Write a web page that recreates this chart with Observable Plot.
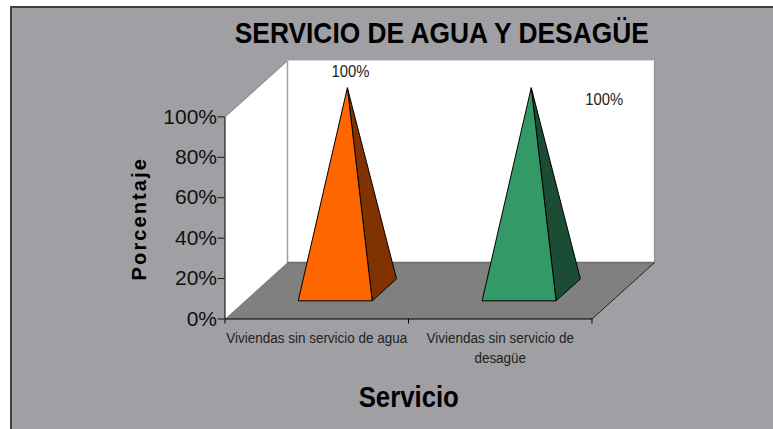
<!DOCTYPE html>
<html>
<head>
<meta charset="utf-8">
<script src="https://cdn.jsdelivr.net/npm/d3@7"></script>
<script src="https://cdn.jsdelivr.net/npm/@observablehq/plot@0.6"></script>
<style>
html,body{margin:0;padding:0;background:#fff;}
#panel{position:absolute;left:10px;top:6px;right:0;bottom:0;background:#a09fa4;border-left:2px solid #404040;border-top:2px solid #404040;}
#chart{position:absolute;left:0;top:0;}
</style>
</head>
<body>
<div id="panel"></div>
<div id="chart"></div>
<script>
const title = "SERVICIO DE AGUA Y DESAGÜE";
const xTitle = "Servicio";
const yTitle = "Porcentaje";
const categories = ["Viviendas sin servicio de agua", "Viviendas sin servicio de\ndesagüe"];
const values = [100, 100];
const faceColors = ["#ff6600", "#339966"];
const sideColors = ["#803300", "#1a4d33"];
const centers = [0.491, 1.493];
const yTicks = [0, 20, 40, 60, 80, 100];
const xTicks = [0, 1, 2];
const labelOffsets = [[3, -15.7], [73, 12]];

// oblique projection of the 3-D chart box: category, value, depth -> plot x, y
const depthX = 0.3406, depthY = 27.9, halfWidth = 0.2016, depthFront = 0.322, depthBack = 0.711;
const P = (cat, value, depth) => ({X: cat + depth * depthX, Y: value + depth * depthY});

const poly = (pts, fill, stroke, strokeWidth = 1) =>
  Plot.line([...pts, pts[0]], {x: "X", y: "Y", fill, stroke, strokeWidth, strokeLinejoin: "miter", strokeLinecap: "butt"});

const seg = (a, b, stroke, strokeWidth = 1) =>
  Plot.line([a, b], {x: "X", y: "Y", stroke, strokeWidth, strokeLinecap: "butt"});

const pyramids = values.flatMap((v, i) => {
  const c = centers[i];
  const apex = P(c, v, (depthFront + depthBack) / 2);
  return [
    poly([P(c + halfWidth, 0, depthFront), P(c + halfWidth, 0, depthBack), apex], sideColors[i], "#000"),
    poly([P(c - halfWidth, 0, depthFront), P(c + halfWidth, 0, depthFront), apex], faceColors[i], "#000"),
    Plot.text([v], {x: () => apex.X, y: () => apex.Y, text: d => d + "%", dx: labelOffsets[i][0], dy: labelOffsets[i][1],
      fontSize: 16.5, fill: "#222", lineAnchor: "middle", className: "squeeze-90"})
  ];
});

const plot = Plot.plot({
  width: 773, height: 429,
  marginLeft: 224.5, marginRight: 119, marginTop: 60, marginBottom: 110.5,
  style: {background: "transparent", fontFamily: "'Liberation Sans', Arial, sans-serif"},
  x: {domain: [0, 2 + depthX], axis: null},
  y: {domain: [0, 100 + depthY], axis: null},
  marks: [
    poly([P(0, 0, 0), P(0, 100, 0), P(0, 100, 1), P(0, 0, 1)], "#fff", "none"),
    poly([P(0, 0, 1), P(0, 100, 1), P(2, 100, 1), P(2, 0, 1)], "#fff", "none"),
    seg(P(0, 100, 0), P(0, 100, 1), "#909090", 1.2),
    seg(P(0, 0, 1), P(0, 100, 1), "#a0a0a0", 1.5),
    seg(P(0, 100, 1), P(2, 100, 1), "#d8d8d8", 1.2),
    seg(P(2, 100, 1), P(2, 0, 1), "#909090", 1.2),
    poly([P(0, 0, 0), P(2, 0, 0), P(2, 0, 1), P(0, 0, 1)], "#808080", "none"),
    seg(P(0, 0, 1), P(2, 0, 1), "#6e6e6e", 1.5),
    seg(P(2, 0, 0), P(2, 0, 1), "#222", 1),
    ...pyramids,
    seg(P(0, 0, 0), P(0, 100, 0), "#000", 1),
    seg(P(0, 0, 0), P(2, 0, 0), "#000", 1),
    Plot.axisY({ticks: yTicks, tickSize: 7, tickPadding: 1, fontSize: 21, label: null, tickFormat: d => d + "%", color: "#111"}),
    Plot.axisX({ticks: xTicks, tickSize: 5, tickFormat: () => "", label: null, color: "#000"}),
    Plot.text(categories, {x: (d, i) => i + 0.5, y: () => 0, text: d => d, dy: 10, fontSize: 14.5, lineHeight: 1.38, fill: "#222", lineAnchor: "top", className: "squeeze-93"}),
    Plot.text([title], {frameAnchor: "top", lineAnchor: "middle", dx: 2, dy: -27, fontSize: 29.5, fontWeight: "bold", fill: "#000", className: "squeeze-894"}),
    Plot.text([xTitle], {frameAnchor: "bottom", lineAnchor: "middle", dx: -31, dy: 78.5, fontSize: 29.5, fontWeight: "bold", fill: "#000", className: "squeeze-873"}),
    Plot.text([yTitle], {frameAnchor: "left", textAnchor: "middle", lineAnchor: "middle", dx: -85.5, dy: 29, rotate: -90, fontSize: 20, fontWeight: "bold", fill: "#000"})
  ]
});
// the reference's Arial is rendered a little condensed: narrow the text, keep its height
const root = d3.select(plot);
const squeeze = (sel, sx) => root.selectAll(sel).attr("transform", function () {
  return (this.getAttribute("transform") || "") + ` scale(${sx},1)`;
});
squeeze(".squeeze-90 text", 0.9);
squeeze(".squeeze-93 text", 0.93);
squeeze(".squeeze-894 text", 0.894);
squeeze(".squeeze-873 text", 0.873);
root.selectAll("text").filter(function () { return this.textContent === yTitle; }).style("letter-spacing", "2.1px");
document.getElementById("chart").append(plot);
</script>
</body>
</html>
